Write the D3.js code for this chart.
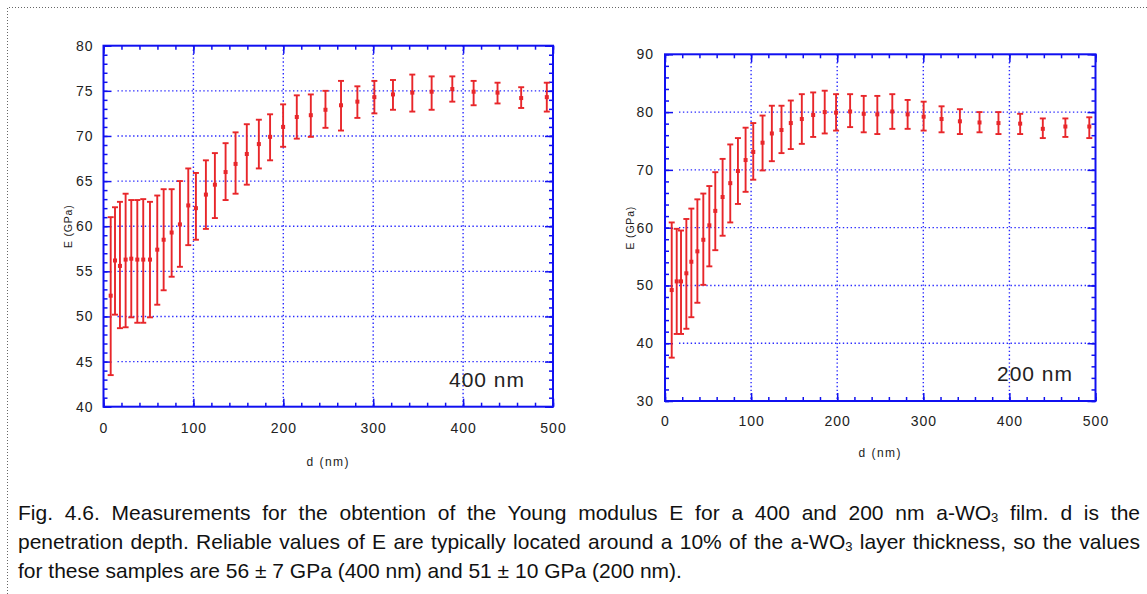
<!DOCTYPE html>
<html>
<head>
<meta charset="utf-8">
<script src="https://cdn.jsdelivr.net/npm/d3@7"></script>
<style>
  body { margin: 0; background: #fff; }
  #wrap { position: relative; width: 1147px; height: 594px; overflow: hidden; }
  svg { position: absolute; left: 0; top: 0; }
  .cap { position: absolute; left: 18px; width: 1122px; font-family: "Liberation Sans", Arial, sans-serif;
         font-size: 21px; color: #111; white-space: nowrap; line-height: 29px; }
  .just { text-align: justify; text-align-last: justify; }
  sub { font-size: 0.62em; vertical-align: -0.15em; line-height: 0; }
</style>
</head>
<body>
<div id="wrap"></div>
<script>
// 400 nm film
const d400 = [8, 12.8, 18.3, 24.6, 30.9, 37.6, 44.2, 51.7, 59.8, 66.9, 75.8, 85, 94.3, 102.8, 113.9, 123.9, 135.8, 146.9,
  159.4, 172.8, 185.3, 199.8, 215, 230.6, 246.9, 264.2, 282.4, 301.3, 322, 343.5, 365, 388, 411.7, 438.3, 464.6, 493.1];
const E400 = [52.3, 56.2, 55.6, 56.3, 56.4, 56.3, 56.3, 56.3, 57.4, 58.5, 59.3, 60.2, 62.3, 62.0, 63.5, 64.6, 66.0, 66.9,
  68.0, 69.1, 69.9, 71.0, 72.1, 72.3, 72.9, 73.4, 73.8, 74.3, 74.6, 74.8, 74.9, 75.2, 74.9, 74.8, 74.2, 74.3];
const hi400 = [61.0, 62.1, 62.7, 63.6, 62.9, 62.9, 63.0, 62.7, 63.4, 64.1, 64.1, 65.0, 66.4, 65.9, 67.3, 68.1, 69.2, 70.4,
  71.3, 71.8, 72.4, 73.5, 74.5, 74.6, 75.0, 76.1, 75.5, 76.1, 76.2, 76.8, 76.6, 76.6, 76.1, 75.9, 75.4, 75.9];
const lo400 = [43.5, 50.2, 48.7, 48.8, 49.9, 49.3, 49.3, 49.9, 51.3, 52.9, 54.4, 55.5, 57.9, 58.5, 59.7, 60.9, 62.9, 63.6,
  64.6, 66.4, 67.3, 68.8, 69.7, 69.9, 70.9, 70.6, 72.0, 72.5, 72.9, 72.7, 72.9, 73.8, 73.4, 73.6, 73.1, 72.7];

// 200 nm film
const d200 = [7.8, 13.6, 18.6, 24.8, 30.6, 37.6, 44.5, 51.5, 58.4, 66.9, 75.8, 84.7, 93.6, 102.5, 113.3, 124.1, 135.3, 146.1,
  158.9, 172.1, 185.5, 198.7, 215, 230.8, 246.6, 264, 281.8, 300.4, 321.2, 342.5, 365.3, 387.3, 412.5, 438.8, 465, 492.8];
const E200 = [49.2, 50.7, 50.7, 52.1, 54.1, 55.9, 57.9, 60.4, 62.9, 65.3, 67.7, 69.8, 71.7, 73.1, 74.7, 76.3, 76.9, 78.1,
  78.8, 79.5, 80.0, 79.9, 80.1, 79.7, 79.6, 80.1, 79.6, 79.2, 78.8, 78.4, 78.2, 78.1, 78.0, 77.1, 77.5, 77.5];
const hi200 = [60.9, 59.8, 59.5, 61.5, 63.3, 64.9, 65.9, 67.2, 69.6, 71.9, 74.4, 75.5, 77.3, 78.1, 79.4, 81.1, 81.1, 82.0,
  83.1, 83.4, 83.7, 83.1, 83.1, 82.8, 82.8, 83.1, 82.1, 81.8, 81.0, 80.5, 80.0, 80.0, 79.7, 78.9, 78.9, 79.1];
const lo200 = [37.5, 41.6, 41.6, 42.5, 44.5, 47.0, 50.1, 53.3, 56.1, 58.6, 60.9, 64.1, 66.2, 68.3, 69.9, 71.5, 72.9, 73.6,
  74.5, 75.7, 76.3, 76.8, 77.4, 76.5, 76.2, 77.1, 77.1, 76.8, 76.5, 76.2, 76.5, 76.2, 76.2, 75.5, 75.7, 75.5];

const xTicks = [0, 100, 200, 300, 400, 500];
const yTicks400 = [40, 45, 50, 55, 60, 65, 70, 75, 80];
const yTicks200 = [30, 40, 50, 60, 70, 80, 90];

const blue = "#1010f0";
const gridBlue = "#2a2aff";
const red = "#e8262a";

const wrap = d3.select("#wrap");
const svg = wrap.append("svg").attr("width", 1147).attr("height", 594);

// dotted page frame
svg.append("path")
  .attr("d", "M7.5,594V7.5H1147")
  .attr("fill", "none")
  .attr("stroke", "#666")
  .attr("stroke-dasharray", "1,2");

function panel(p) {
  const x = d3.scaleLinear().domain([0, 500]).range([p.left, p.right]);
  const y = d3.scaleLinear().domain(p.yDomain).range([p.bottom, p.top]);
  const g = svg.append("g");

  const xMinor = d3.range(0, 501, 20);
  const yMinor = d3.range(p.yDomain[0], p.yDomain[1] + 0.001, p.yMinorStep);

  // grid
  g.append("g").selectAll("line")
    .data(xTicks.slice(1, -1))
    .join("line")
      .attr("x1", d => x(d)).attr("x2", d => x(d))
      .attr("y1", p.top).attr("y2", p.bottom)
      .attr("stroke", gridBlue).attr("stroke-width", 1.4).attr("stroke-dasharray", "1.4,2.5");
  g.append("g").selectAll("line")
    .data(p.yTicks.slice(1, -1))
    .join("line")
      .attr("x1", p.left + 14).attr("x2", p.right)
      .attr("y1", d => y(d)).attr("y2", d => y(d))
      .attr("stroke", gridBlue).attr("stroke-width", 1.4).attr("stroke-dasharray", "1.4,2.5");

  // minor + major ticks on all four sides
  const minorSets = [
    [d3.axisBottom(x).tickValues(xMinor), `translate(0,${p.bottom})`],
    [d3.axisTop(x).tickValues(xMinor), `translate(0,${p.top})`],
    [d3.axisLeft(y).tickValues(yMinor), `translate(${p.left},0)`],
    [d3.axisRight(y).tickValues(yMinor), `translate(${p.right},0)`]
  ];
  minorSets.forEach(([ax, tr]) => {
    g.append("g").attr("transform", tr)
      .call(ax.tickSize(-4).tickSizeOuter(0).tickFormat(""))
      .call(s => s.select(".domain").remove())
      .call(s => s.selectAll("line").attr("stroke", blue).attr("stroke-width", 1.5));
  });
  const majorSets = [
    [d3.axisTop(x).tickValues(xTicks), `translate(0,${p.top})`],
    [d3.axisRight(y).tickValues(p.yTicks), `translate(${p.right},0)`]
  ];
  majorSets.forEach(([ax, tr]) => {
    g.append("g").attr("transform", tr)
      .call(ax.tickSize(-8).tickSizeOuter(0).tickFormat(""))
      .call(s => s.select(".domain").remove())
      .call(s => s.selectAll("line").attr("stroke", blue).attr("stroke-width", 1.5));
  });

  const styleLabels = s => s.selectAll("text")
    .attr("fill", "#222")
    .attr("font-family", "Liberation Sans, Arial, sans-serif")
    .attr("font-size", 14)
    .attr("letter-spacing", 1);

  g.append("g").attr("transform", `translate(0,${p.bottom})`)
    .call(d3.axisBottom(x).tickValues(xTicks).tickSize(-8).tickSizeOuter(0).tickPadding(p.xPad))
    .call(s => s.select(".domain").remove())
    .call(s => s.selectAll("line").attr("stroke", blue).attr("stroke-width", 1.5))
    .call(styleLabels);
  g.append("g").attr("transform", `translate(${p.left},0)`)
    .call(d3.axisLeft(y).tickValues(p.yTicks).tickSize(-8).tickSizeOuter(0).tickPadding(p.yPad))
    .call(s => s.select(".domain").remove())
    .call(s => s.selectAll("line").attr("stroke", blue).attr("stroke-width", 1.5))
    .call(styleLabels);

  // frame
  g.append("rect")
    .attr("x", p.left).attr("y", p.top)
    .attr("width", p.right - p.left).attr("height", p.bottom - p.top)
    .attr("fill", "none").attr("stroke", blue).attr("stroke-width", 2);

  // axis titles
  g.append("text")
    .attr("x", (p.left + p.right) / 2).attr("y", p.bottom + p.xTitleGap)
    .attr("text-anchor", "middle")
    .attr("font-family", "Liberation Sans, Arial, sans-serif")
    .attr("font-size", 12).attr("letter-spacing", 1.5).attr("fill", "#222")
    .text("d (nm)");
  g.append("text")
    .attr("transform", `translate(${p.left - p.yTitleGap},${(p.top + p.bottom) / 2}) rotate(-90)`)
    .attr("text-anchor", "middle")
    .attr("font-family", "Liberation Sans, Arial, sans-serif")
    .attr("font-size", 10.5).attr("letter-spacing", 0.8).attr("fill", "#222")
    .text("E (GPa)");

  // error bars
  const pts = p.d.map((d, i) => ({d, e: p.E[i], hi: p.hi[i], lo: p.lo[i]}));
  const bars = g.append("g").selectAll("g").data(pts).join("g")
    .attr("stroke", red).attr("stroke-width", 1.9).attr("fill", "none");
  bars.append("line")
    .attr("x1", d => x(d.d)).attr("x2", d => x(d.d))
    .attr("y1", d => y(d.hi)).attr("y2", d => y(d.lo));
  bars.append("line")
    .attr("x1", d => x(d.d) - 3).attr("x2", d => x(d.d) + 3)
    .attr("y1", d => y(d.hi)).attr("y2", d => y(d.hi));
  bars.append("line")
    .attr("x1", d => x(d.d) - 3).attr("x2", d => x(d.d) + 3)
    .attr("y1", d => y(d.lo)).attr("y2", d => y(d.lo));
  g.append("g").selectAll("rect").data(pts).join("rect")
    .attr("x", d => x(d.d) - 2).attr("y", d => y(d.e) - 2)
    .attr("width", 4).attr("height", 4)
    .attr("fill", red);

  // sample label
  g.append("text")
    .attr("x", p.labelX).attr("y", p.labelY)
    .attr("font-family", "Liberation Sans, Arial, sans-serif")
    .attr("font-size", 21).attr("letter-spacing", 1).attr("fill", "#222")
    .text(p.label);
}

panel({
  left: 103.5, right: 553, top: 45.7, bottom: 406.7,
  yDomain: [40, 80], yTicks: yTicks400, yMinorStep: 1,
  d: d400, E: E400, hi: hi400, lo: lo400,
  xPad: 16, yPad: 10, xTitleGap: 59, yTitleGap: 32,
  label: "400 nm", labelX: 449, labelY: 387
});
panel({
  left: 665, right: 1095.5, top: 54.3, bottom: 401,
  yDomain: [30, 90], yTicks: yTicks200, yMinorStep: 2,
  d: d200, E: E200, hi: hi200, lo: lo200,
  xPad: 15, yPad: 11, xTitleGap: 56, yTitleGap: 31,
  label: "200 nm", labelX: 997, labelY: 381
});

// caption
const lines = [
  {html: "Fig. 4.6. Measurements for the obtention of the Young modulus E for a 400 and 200 nm a-WO<sub>3</sub> film. d is the", just: true},
  {html: "penetration depth. Reliable values of E are typically located around a 10% of the a-WO<sub>3</sub> layer thickness, so the values", just: true},
  {html: "for these samples are 56 ± 7 GPa (400 nm) and 51 ± 10 GPa (200 nm).", just: false}
];
wrap.selectAll("div.cap").data(lines).join("div")
  .attr("class", d => d.just ? "cap just" : "cap")
  .style("top", (d, i) => (498 + i * 29) + "px")
  .html(d => d.html);
</script>
</body>
</html>
